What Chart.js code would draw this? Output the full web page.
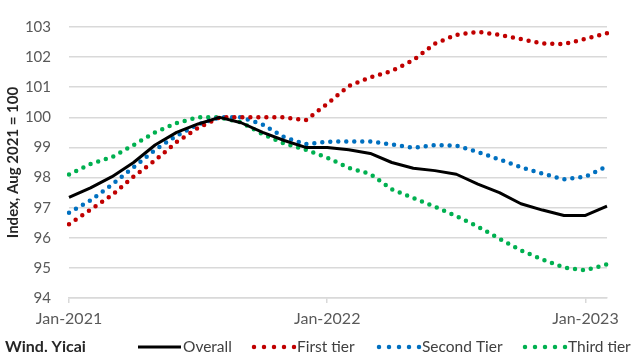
<!DOCTYPE html>
<html>
<head>
<meta charset="utf-8">
<script src="https://cdn.jsdelivr.net/npm/chart.js@4/dist/chart.umd.min.js"></script>
<style>
html,body{margin:0;padding:0;background:#fff;}
#wrap{width:640px;height:358px;position:relative;}
</style>
</head>
<body>
<div id="wrap"><canvas id="c" width="640" height="358"></canvas></div>
<script>
const months = ["Jan-2021","Feb-2021","Mar-2021","Apr-2021","May-2021","Jun-2021","Jul-2021","Aug-2021","Sep-2021","Oct-2021","Nov-2021","Dec-2021",
  "Jan-2022","Feb-2022","Mar-2022","Apr-2022","May-2022","Jun-2022","Jul-2022","Aug-2022","Sep-2022","Oct-2022","Nov-2022","Dec-2022",
  "Jan-2023","Feb-2023"];
const overall    = [97.34,97.66,98.03,98.50,99.08,99.50,99.78,100.00,99.82,99.50,99.23,99.00,99.00,98.92,98.80,98.50,98.31,98.23,98.11,97.78,97.50,97.13,96.92,96.74,96.74,97.05];
const firstTier  = [96.45,96.93,97.42,98.03,98.57,99.18,99.65,100.00,100.00,100.00,100.00,99.90,100.45,101.04,101.33,101.54,101.90,102.45,102.74,102.84,102.74,102.60,102.45,102.43,102.61,102.79];
const secondTier = [96.83,97.24,97.77,98.34,98.92,99.39,99.76,100.00,100.00,99.76,99.34,99.11,99.19,99.20,99.20,99.10,98.99,99.08,99.06,98.85,98.60,98.34,98.13,97.94,98.03,98.37];
const thirdTier  = [98.10,98.45,98.68,99.08,99.50,99.81,100.00,100.00,99.83,99.44,99.13,98.92,98.66,98.32,98.12,97.61,97.32,97.03,96.72,96.37,95.97,95.58,95.28,95.01,94.92,95.12];
const seriesNames = ["Overall","First tier","Second Tier","Third tier"];
const yTicks = [94,95,96,97,98,99,100,101,102,103];
const yTitle = "Index, Aug 2021 = 100";
const sourceText = "Wind. Yicai";

const FONT = "Lato, 'Open Sans', sans-serif";
const legendStarts = [138, 252, 377, 523];

const legendPlugin = {
  id: 'customLegend',
  afterDraw(chart) {
    const ctx = chart.ctx;
    ctx.save();
    const y = 347;
    ctx.textBaseline = 'middle';
    ctx.textAlign = 'left';
    ctx.fillStyle = '#262626';
    ctx.font = "bold 16px " + FONT;
    ctx.fillText(sourceText, 5, y);
    ctx.font = "15.5px " + FONT;
    chart.data.datasets.forEach((ds, i) => {
      const x = legendStarts[i];
      const isDotted = ds.borderDash && ds.borderDash.length;
      ctx.save();
      ctx.strokeStyle = ds.borderColor;
      ctx.lineWidth = ds.borderWidth;
      ctx.lineCap = ds.borderCapStyle || 'butt';
      ctx.setLineDash(isDotted ? [0, 10] : []);
      ctx.beginPath();
      ctx.moveTo(x + (isDotted ? 2 : 0), y);
      ctx.lineTo(x + 43, y);
      ctx.stroke();
      ctx.restore();
      ctx.fillStyle = '#404040';
      ctx.fillText(ds.label, x + 45, y);
    });
    ctx.restore();
  }
};

const dotted = (color, data, label) => ({
  label, data,
  borderColor: color,
  backgroundColor: color,
  borderWidth: 4.5,
  borderDash: [0, 8],
  borderCapStyle: 'round',
  pointRadius: 0,
  tension: 0,
  fill: false
});

new Chart(document.getElementById('c'), {
  type: 'line',
  data: {
    labels: months,
    datasets: [
      {label: seriesNames[0], data: overall, borderColor: '#000000', backgroundColor: '#000000', borderWidth: 3, pointRadius: 0, tension: 0, fill: false, borderJoinStyle: 'round'},
      dotted('#c00000', firstTier, seriesNames[1]),
      dotted('#0070c0', secondTier, seriesNames[2]),
      dotted('#00b050', thirdTier, seriesNames[3])
    ]
  },
  options: {
    responsive: false,
    animation: false,
    devicePixelRatio: 1,
    layout: {padding: {left: 0, right: 33, top: 12, bottom: 28}},
    plugins: {legend: {display: false}, tooltip: {enabled: false}},
    scales: {
      x: {
        type: 'category',
        offset: false,
        afterBuildTicks(scale) { scale.ticks = scale.ticks.filter(t => months[t.value].startsWith('Jan')); },
        afterFit(scale) { scale.height = 32; },
        grid: {drawOnChartArea: false, drawTicks: true, tickLength: 5, color: '#d9d9d9', lineWidth: 1.5},
        border: {display: true, color: '#d9d9d9', width: 1.5},
        ticks: {autoSkip: false, maxRotation: 0, padding: 6, color: '#595959', font: {family: FONT, size: 16}}
      },
      y: {
        min: yTicks[0], max: yTicks[yTicks.length - 1],
        afterBuildTicks(scale) { scale.ticks = yTicks.map(v => ({value: v})); },
        afterFit(scale) { scale.width = 69; },
        grid: {drawTicks: false, color: '#d9d9d9', lineWidth: 1.5},
        border: {display: false},
        ticks: {padding: 18, color: '#595959', font: {family: FONT, size: 15}},
        title: {display: true, text: yTitle, color: '#262626', font: {family: FONT, size: 15, weight: 'bold'}, padding: {top: 4, bottom: 0}}
      }
    }
  },
  plugins: [legendPlugin]
});
</script>
</body>
</html>
